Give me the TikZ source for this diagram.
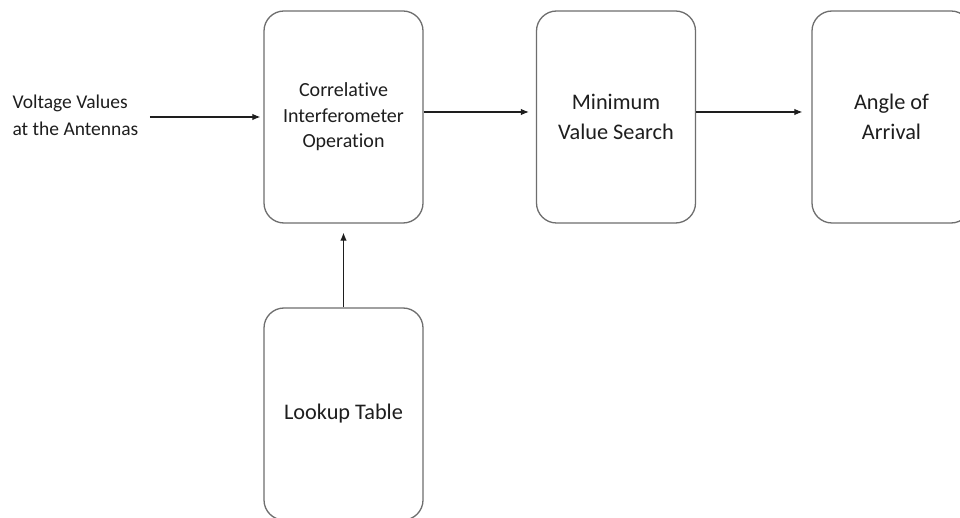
\documentclass[tikz,border=0pt]{standalone}
\usepackage{fontspec}
\setmainfont[Ligatures=NoCommon]{Carlito}
\usetikzlibrary{arrows.meta}
\definecolor{boxgray}{HTML}{6E6E6E}
\definecolor{txtgray}{HTML}{1E1E1E}
\tikzset{
	block/.style={draw=boxgray, line width=1.3pt, rounded corners=20pt, minimum width=159pt, minimum height=212pt, align=center, text=txtgray, font=\fontsize{22.3}{30}\selectfont},
	smallblock/.style={block, font=\fontsize{20}{25.5}\selectfont}
}
\begin{document}
\begin{tikzpicture}[x=1pt, y=1pt, >={Latex[length=8pt,width=6.5pt]}, line width=1.1pt, draw=txtgray]
			\clip (0,0) rectangle (960,-518);
			\fill[white] (0,0) rectangle (960,-518);
			\node[anchor=west, align=left, text=txtgray, font=\fontsize{19.5}{27}\selectfont, inner sep=0pt] (inp) at (12,-115) {Voltage Values\\at the Antennas};
			\node[smallblock] (corr) at (343.5,-117) {Correlative\\Interferometer\\Operation};
			\node[block] (minv) at (616,-117) {Minimum\\Value Search};
			\node[block] (aoa) at (891.5,-117) {Angle of\\Arrival};
			\node[block] (look) at (343.5,-414) {Lookup Table};

			\path [->, shorten <=11pt, shorten >=3pt] (inp.east |- corr.west) edge (corr.west);
			\path [->, shorten >=7pt] ([yshift=5pt]corr.east) edge ([yshift=5pt]minv.west);
			\path [->, shorten >=9pt] ([yshift=5pt]minv.east) edge ([yshift=5pt]aoa.west);
			\path [->, shorten >=9pt] (look.north) edge (corr.south);
		\end{tikzpicture}
\end{document}
